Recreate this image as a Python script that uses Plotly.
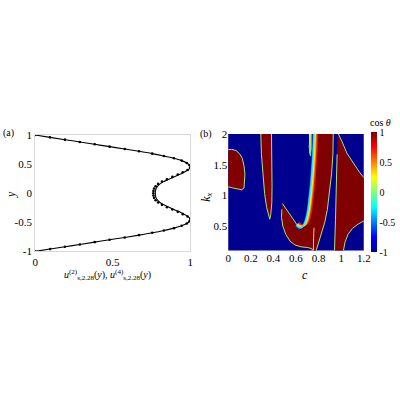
import plotly.graph_objects as go

# ---------------- panel (a) data ----------------
y_grid = [1.0, 0.96, 0.92, 0.88, 0.84, 0.80, 0.76, 0.72, 0.68, 0.64, 0.60, 0.56, 0.52, 0.48, 0.44,
          0.40, 0.36, 0.32, 0.28, 0.24, 0.20, 0.16, 0.12, 0.08, 0.04, 0.0,
          -0.04, -0.08, -0.12, -0.16, -0.20, -0.24, -0.28, -0.32, -0.36, -0.40, -0.44, -0.48,
          -0.52, -0.56, -0.60, -0.64, -0.68, -0.72, -0.76, -0.80, -0.84, -0.88, -0.92, -0.96, -1.0]
u2 = [0, 0.096, 0.192, 0.288, 0.384, 0.48, 0.578, 0.67, 0.755, 0.83, 0.895, 0.945, 0.978, 0.996, 1.0,
      0.985, 0.96, 0.93, 0.895, 0.862, 0.83, 0.805, 0.79, 0.78, 0.776, 0.775,
      0.776, 0.78, 0.79, 0.805, 0.83, 0.862, 0.895, 0.93, 0.96, 0.985, 1.0, 0.996,
      0.978, 0.945, 0.895, 0.83, 0.755, 0.67, 0.578, 0.48, 0.384, 0.288, 0.192, 0.096, 0]
u4 = [0, 0.096, 0.192, 0.288, 0.384, 0.48, 0.578, 0.67, 0.755, 0.83, 0.895, 0.945, 0.978, 0.996, 1.0,
      0.983, 0.952, 0.92, 0.885, 0.85, 0.818, 0.793, 0.777, 0.767, 0.763, 0.762,
      0.763, 0.767, 0.777, 0.793, 0.818, 0.85, 0.885, 0.92, 0.952, 0.983, 1.0, 0.996,
      0.978, 0.945, 0.895, 0.83, 0.755, 0.67, 0.578, 0.48, 0.384, 0.288, 0.192, 0.096, 0]
a_xticks = [0, 0.5, 1]
a_xticklabels = ["0", "0.5", "1"]
a_yticks = [-1, -0.5, 0, 0.5, 1]
a_yticklabels = ["-1", "-0.5", "0", "0.5", "1"]

# ---------------- panel (b) data: regions where cos(theta) = +1 ----------------
blob_c = [-0.03, 0, 0.03, 0.07, 0.10, 0.125, 0.14, 0.148, 0.147, 0.14, 0.12, 0.08, 0.04, 0, -0.03]
blob_k = [1.74, 1.74, 1.75, 1.73, 1.68, 1.60, 1.48, 1.35, 1.22, 1.12, 1.09, 1.10, 1.12, 1.14, 1.14]

tall_c = [0.288, 0.294, 0.308, 0.322, 0.34, 0.36, 0.368, 0.377, 0.386, 0.388, 0.386, 0.383]
tall_k = [2.03, 1.67, 1.35, 1.03, 0.80, 0.64, 0.61, 0.69, 0.88, 1.14, 1.56, 2.03]

band_c = [0.48, 0.504, 0.538, 0.576, 0.604, 0.624, 0.647, 0.67, 0.69, 0.708, 0.722, 0.734, 0.745,
          0.754, 0.76, 0.93, 0.927, 0.915, 0.898, 0.878, 0.855, 0.826, 0.797, 0.777, 0.774,
          0.757, 0.74, 0.705, 0.647, 0.59, 0.547, 0.51, 0.483, 0.472, 0.475]
band_k = [0.865, 0.80, 0.71, 0.61, 0.53, 0.48, 0.475, 0.517, 0.61, 0.77, 0.98, 1.19, 1.46,
          1.72, 2.03, 2.03, 1.67, 1.35, 1.03, 0.77, 0.56, 0.375, 0.22, 0.1, 0.07,
          0.07, 0.128, 0.148, 0.158, 0.19, 0.253, 0.36, 0.50, 0.64, 0.77]

right_c = [0.968, 0.985, 1.007, 1.05, 1.114, 1.165, 1.2, 1.23, 1.23, 1.2, 1.15, 1.1, 1.06, 1.035,
           1.02, 1.018, 0.94, 0.941, 0.95, 0.958, 0.964]
right_k = [2.03, 1.97, 1.88, 1.69, 1.50, 1.37, 1.29, 1.28, 0.57, 0.58, 0.53, 0.46, 0.36, 0.24,
           0.1, 0.07, 0.07, 0.1, 0.61, 1.14, 1.67]

spike_c = [0.714, 0.735, 0.734, 0.729, 0.722, 0.716]
spike_k = [2.03, 2.03, 1.75, 1.64, 1.68, 1.82]

# gradient layers along the left edge of the J-shaped band
j_blue_c = [0.598, 0.619, 0.645, 0.665, 0.684, 0.702, 0.716, 0.728, 0.739, 0.748, 0.754]
j_blue_k = [0.512, 0.472, 0.466, 0.512, 0.61, 0.77, 0.98, 1.19, 1.46, 1.72, 2.03]
j_cyan_c = [0.604, 0.624, 0.647, 0.67, 0.69, 0.708, 0.722, 0.734, 0.745, 0.754, 0.76]
j_cyan_k = [0.517, 0.48, 0.475, 0.517, 0.61, 0.77, 0.98, 1.19, 1.46, 1.72, 2.03]
j_yel_c = [0.611, 0.629, 0.65, 0.678, 0.698, 0.716, 0.730, 0.742, 0.753, 0.762, 0.768]
j_yel_k = [0.528, 0.492, 0.488, 0.523, 0.61, 0.77, 0.98, 1.19, 1.46, 1.72, 2.03]
j_org_c = [0.617, 0.634, 0.654, 0.686, 0.706, 0.724, 0.738, 0.750, 0.761, 0.770, 0.776]
j_org_k = [0.54, 0.505, 0.5, 0.53, 0.61, 0.77, 0.98, 1.19, 1.46, 1.72, 2.03]
j_red_c = [0.624, 0.64, 0.66, 0.696, 0.716, 0.734, 0.748, 0.760, 0.771, 0.780, 0.786]
j_red_k = [0.552, 0.518, 0.514, 0.54, 0.61, 0.77, 0.98, 1.19, 1.46, 1.72, 2.03]
seam_c = [0.754, 0.756, 0.76]
seam_k = [0.07, 0.3, 0.47]

b_xticks = [0, 0.2, 0.4, 0.6, 0.8, 1, 1.2]
b_xticklabels = ["0", "0.2", "0.4", "0.6", "0.8", "1", "1.2"]
b_yticks = [0.5, 1, 1.5, 2]
b_yticklabels = ["0.5", "1", "1.5", "2"]
cb_ticks = [-1, -0.5, 0, 0.5, 1]
cb_ticklabels = ["-1", "-0.5", "0", "0.5", "1"]

FONT = "Liberation Serif, DejaVu Serif, serif"
DARKRED = "rgb(128,0,0)"
DARKBLUE = "rgb(0,0,143)"
EDGE = "rgb(170,225,130)"
jet = [[0, "rgb(0,0,143)"], [0.125, "rgb(0,0,255)"], [0.375, "rgb(0,255,255)"],
       [0.625, "rgb(255,255,0)"], [0.875, "rgb(255,0,0)"], [1, "rgb(128,0,0)"]]


def px(x):
    return x / 400


def py(y):
    return 1 - y / 400


fig = go.Figure()

# panel (a)
fig.add_trace(go.Scatter(x=u4, y=y_grid, mode="markers", xaxis="x", yaxis="y",
                         marker=dict(color="black", size=2.6, symbol="circle"), showlegend=False))
fig.add_trace(go.Scatter(x=u2, y=y_grid, mode="lines", xaxis="x", yaxis="y",
                         line=dict(color="black", width=1.1, shape="spline"), showlegend=False))

# panel (b)
for cc, kk in [(blob_c, blob_k), (tall_c, tall_k), (band_c, band_k), (right_c, right_k)]:
    fig.add_trace(go.Scatter(x=cc, y=kk, mode="lines", fill="toself", fillcolor=DARKRED,
                             line=dict(color=EDGE, width=1), xaxis="x2", yaxis="y2",
                             showlegend=False, hoverinfo="skip"))
fig.add_trace(go.Scatter(x=spike_c, y=spike_k, mode="lines", fill="toself", fillcolor="rgb(235,235,20)",
                         line=dict(color="rgb(90,220,230)", width=1), xaxis="x2", yaxis="y2",
                         showlegend=False, hoverinfo="skip"))
for cc, kk, col, w in [(j_red_c, j_red_k, "rgb(230,20,0)", 2.5),
                       (j_org_c, j_org_k, "rgb(255,140,0)", 2),
                       (j_yel_c, j_yel_k, "rgb(240,240,30)", 2),
                       (j_blue_c, j_blue_k, "rgb(0,110,255)", 1.5),
                       (j_cyan_c, j_cyan_k, "rgb(60,230,240)", 1.5),
                       (seam_c, seam_k, "rgb(255,190,190)", 1)]:
    fig.add_trace(go.Scatter(x=cc, y=kk, mode="lines", line=dict(color=col, width=w, shape="spline"),
                             xaxis="x2", yaxis="y2", showlegend=False, hoverinfo="skip"))

# colorbar carrier
fig.add_trace(go.Scatter(x=[None], y=[None], mode="markers", xaxis="x2", yaxis="y2", showlegend=False,
                         marker=dict(color=[-1, 1], cmin=-1, cmax=1, colorscale=jet, showscale=True,
                                     colorbar=dict(x=px(377), xanchor="left", thickness=6,
                                                   lenmode="pixels", len=120, y=py(192), yanchor="middle",
                                                   tickvals=cb_ticks, ticktext=cb_ticklabels, ticks="",
                                                   outlinewidth=0, xpad=0, ypad=0,
                                                   tickfont=dict(family=FONT, size=10, color="black")))))

axis_common = dict(showgrid=False, zeroline=False, ticks="", tickfont=dict(family=FONT, size=11, color="black"))
fig.update_layout(
    width=400, height=400, margin=dict(l=0, r=0, t=0, b=0),
    paper_bgcolor="white", plot_bgcolor="rgba(0,0,0,0)",
    xaxis=dict(domain=[px(33), px(192)], range=[0, 1], tickvals=a_xticks, ticktext=a_xticklabels,
               showline=True, mirror=True, linecolor="rgb(215,215,215)", linewidth=1, anchor="y", **axis_common),
    yaxis=dict(domain=[py(253), py(133)], range=[-1, 1], tickvals=a_yticks, ticktext=a_yticklabels,
               showline=True, mirror=True, linecolor="rgb(215,215,215)", linewidth=1, anchor="x", **axis_common),
    xaxis2=dict(domain=[px(231), px(370)], range=[0, 1.2], tickvals=b_xticks, ticktext=b_xticklabels,
                showline=False, anchor="y2", **axis_common),
    yaxis2=dict(domain=[py(252), py(132)], range=[0.1, 2], tickvals=b_yticks, ticktext=b_yticklabels,
                showline=False, anchor="x2", **axis_common),
    shapes=[dict(type="rect", xref="x2 domain", yref="y2 domain", x0=0, x1=1, y0=0, y1=1,
                 fillcolor=DARKBLUE, line=dict(width=0), layer="below")],
    showlegend=False,
)

annotations = [
    dict(text="(a)", x=px(6), y=py(131), size=10),
    dict(text="(b)", x=px(208), y=py(132), size=10),
    dict(text="<i>y</i>", x=px(8), y=py(194), textangle=-90, size=12),
    dict(text="<i>k<sub>x</sub></i>", x=px(209), y=py(197), textangle=-90, size=12),
    dict(text="<i>u</i><sup>(2)</sup><sub>s,2.28</sub>(<i>y</i>), <i>u</i><sup>(4)</sup><sub>s,2.28</sub>(<i>y</i>)",
         x=px(107), y=py(277), size=10),
    dict(text="cos <i>θ</i>", x=px(387), y=py(120), size=10),
    dict(text="<i>c</i>", x=px(310), y=py(277), size=12),
]
for a in annotations:
    sz = a.pop("size", 11)
    fig.add_annotation(xref="paper", yref="paper", xanchor="center", yanchor="middle", showarrow=False,
                       font=dict(family=FONT, size=sz, color="black"), **a)

fig.write_html("out.html", config={"displayModeBar": False},
               post_script="document.body.style.margin='0';")
